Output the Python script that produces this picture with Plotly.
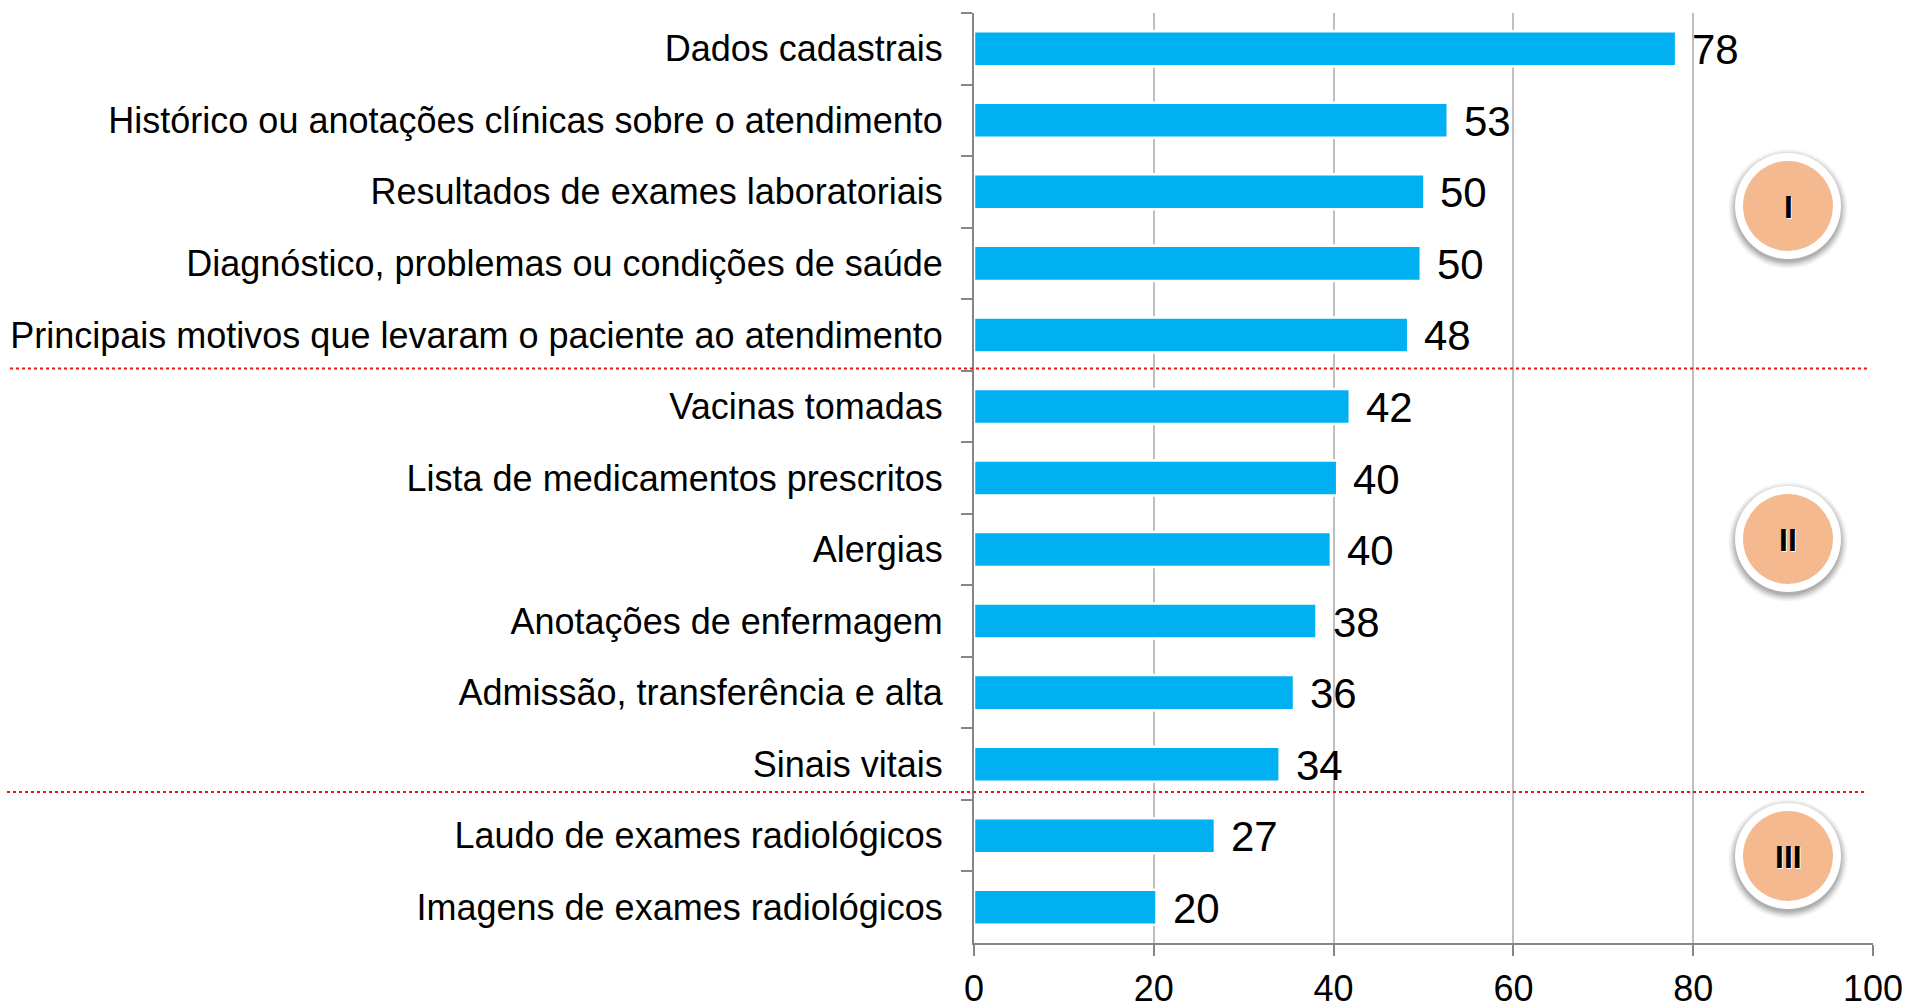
import plotly.graph_objects as go

categories = ["Dados cadastrais", "Histórico ou anotações clínicas sobre o atendimento",
              "Resultados de exames laboratoriais", "Diagnóstico, problemas ou condições de saúde",
              "Principais motivos que levaram o paciente ao atendimento", "Vacinas tomadas",
              "Lista de medicamentos prescritos", "Alergias", "Anotações de enfermagem",
              "Admissão, transferência e alta", "Sinais vitais", "Laudo de exames radiológicos",
              "Imagens de exames radiológicos"]
bar_values = [78.1, 52.7, 50.1, 49.7, 48.3, 41.8, 40.4, 39.7, 38.1, 35.6, 34.0, 26.8, 20.3]
value_labels = ["78", "53", "50", "50", "48", "42", "40", "40", "38", "36", "34", "27", "20"]
x_ticks = [0, 20, 40, 60, 80, 100]
groups = ["I", "II", "III"]
group_y_px = [206, 539, 856]
divider_y_px = [368.5, 792]

W, H = 1907, 1004
L, R, T, B = 974, 1873, 13, 943
FONT = "Liberation Sans, Arial, sans-serif"
fx = lambda px: (px - L) / (R - L)
fy = lambda px: (B - px) / (B - T)

fig = go.Figure(go.Bar(
    y=categories, x=bar_values, orientation="h", width=0.49,
    marker=dict(color="#00B0F0", line=dict(color="white", width=2.5)),
    hoverinfo="skip"))

annotations = [dict(x=v, y=c, text=t, xref="x", yref="y", showarrow=False, xanchor="left",
                    xshift=14, yshift=-1, font=dict(family=FONT, size=42, color="black"))
               for v, c, t in zip(bar_values, categories, value_labels)]
shapes = []
for y, x0, x1 in zip(divider_y_px, (10, 7), (1868, 1866)):
    shapes.append(dict(type="line", xref="paper", yref="paper", x0=fx(x0), x1=fx(x1),
                       y0=fy(y), y1=fy(y), line=dict(color="#EE1414", width=2, dash="dot"),
                       layer="above"))

CX = 1788
def circle(cx, cy, r, color, opacity=1):
    return dict(type="circle", xref="paper", yref="paper", x0=fx(cx - r), x1=fx(cx + r),
                y0=fy(cy + r), y1=fy(cy - r), fillcolor=color, opacity=opacity,
                line=dict(width=0), layer="above")

for g, cy in zip(groups, group_y_px):
    for dr, op in ((7, .02), (6, .03), (5, .03), (4, .04), (3, .05), (2, .05), (1, .06), (0, .07)):
        shapes.append(circle(CX, cy + 3, 53 + dr, "#000000", op))
    shapes.append(circle(CX, cy, 53, "#FFFFFF"))
    shapes.append(circle(CX, cy, 45, "#F4B98E"))
    annotations.append(dict(x=fx(CX), y=fy(cy + 1), xref="paper", yref="paper", text=g,
                            showarrow=False, xanchor="center", yanchor="middle",
                            font=dict(family=FONT, size=32, color="black", weight="bold",
                                      shadow="1px 1px 0 white")))

fig.update_layout(
    width=W, height=H, margin=dict(l=L, r=W - R, t=T, b=H - B, pad=0, autoexpand=False),
    paper_bgcolor="white", plot_bgcolor="white", showlegend=False,
    bargap=0.51, shapes=shapes, annotations=annotations,
    xaxis=dict(range=[0, 100], tickvals=x_ticks, showgrid=True, gridcolor="#BFBFBF", gridwidth=2,
               zeroline=False, showline=True, linecolor="#868686", linewidth=2,
               ticks="outside", ticklen=11, tickwidth=2, tickcolor="#868686", ticklabelstandoff=2,
               tickfont=dict(family=FONT, size=36, color="black"), automargin=False),
    yaxis=dict(type="category", categoryorder="array", categoryarray=categories, autorange="reversed",
               tickson="boundaries", showgrid=False, zeroline=False, showline=True,
               linecolor="#868686", linewidth=2, ticks="outside", ticklen=11, tickwidth=2,
               tickcolor="#868686", ticklabelstandoff=22,
               tickfont=dict(family=FONT, size=36, color="black"), automargin=False),
)
fig.write_html("out.html", config=dict(displayModeBar=False),
               post_script="document.body.style.margin='0';document.body.style.overflow='hidden';")
